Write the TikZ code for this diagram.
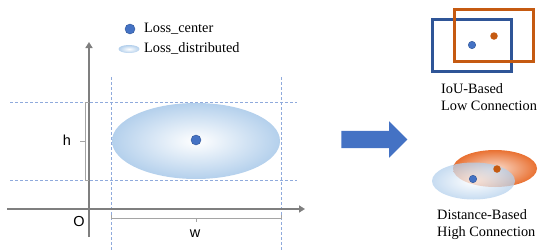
\documentclass[tikz,border=0pt]{standalone}
\usepackage{fontspec}
\setmainfont{Liberation Serif}
\setsansfont{Liberation Sans}
\usetikzlibrary{arrows.meta,positioning,shapes.geometric,shapes.arrows}
\definecolor{LBlue}{HTML}{4472C4}
\definecolor{LNavy}{HTML}{2F5597}
\definecolor{LOrange}{HTML}{C55A11}
\definecolor{LPeach}{HTML}{E97132}
\definecolor{LSky}{HTML}{B4D0EC}
\definecolor{LGuide}{HTML}{8FAADC}
\definecolor{LGray}{HTML}{7F7F7F}

\begin{document}
\begin{tikzpicture}[x=1pt,y=-1pt,
  ctr/.style={circle,fill=LBlue,draw=LNavy,line width=0.4pt,inner sep=0pt,minimum size=#1},
  ctr/.default=10pt,
  octr/.style={circle,fill=LOrange,inner sep=0pt,minimum size=7.5pt},
  blob/.style={ellipse,inner sep=0pt,inner color=white,outer color=LSky},
  gd/.style={LGuide,dash pattern=on 3pt off 2pt,line width=0.6pt},
  ax/.style={LGray,line width=1.8pt,-{Triangle[length=6pt,width=7pt]}},
  br/.style={LGray!70,line width=0.7pt},
  lab/.style={font=\fontsize{14.3}{17}\selectfont,align=left,inner sep=0pt},
  sym/.style={font=\sffamily\fontsize{14.5}{16}\selectfont,inner sep=0pt},
  bx/.style={line width=3pt,minimum width=79pt,minimum height=52pt,inner sep=0pt}
]
  \useasboundingbox (0,0) rectangle (550,252);
  % guides
  \draw[gd] (10,102) coordinate (gh1) -- (297,102) coordinate (gh1e);
  \draw[gd] (10,180) coordinate (gh2) -- (297,180) coordinate (gh2e);
  \draw[gd] (111,77) coordinate (gv1) -- (111,252) coordinate (gv1e);
  \draw[gd] (281,77) coordinate (gv2) -- (281,252) coordinate (gv2e);
  % axes
  \coordinate (ybot) at (89,237);
  \coordinate (ytop) at (89,42);
  \coordinate (xl) at (7,209);
  \coordinate (xr) at (305,209);
  \draw[ax] (ybot) -- (ytop);
  \draw[ax] (xl) -- (xr);
  \node[sym] (origin) at (79,222) {O};
  % loss region
  \node[blob,minimum width=168pt,minimum height=76pt] (region) at (196,141) {};
  \node[ctr] (center) at (196,140) {};
  % brackets
  \draw[br] (89,102) -- (85,102) -- (85,180) -- (89,180);
  \draw[br] (85,141) -- (80,141);
  \node[sym] (hlab) at (67,140) {h};
  \draw[br] (111,215) -- (111,218) -- (281,218) -- (281,215);
  \draw[br] (196,218) -- (196,222);
  \node[sym] (wlab) at (195,234) {w};
  % legend
  \node[ctr] (legdot) at (130,29) {};
  \node[lab,anchor=west] (legc) at (144,29) {Loss\_center};
  \node[blob,minimum width=21pt,minimum height=8pt] (legblob) at (129,49) {};
  \node[lab,anchor=west] (legd) at (144,48) {Loss\_distributed};
  % arrow
  \node[single arrow,fill=LBlue,inner sep=8.5pt,minimum height=66pt,
    single arrow head extend=9.5pt] (go) at (370,139.5) {};
  % IoU boxes
  \node[bx,draw=LNavy] (bbox) at (471.5,45) {};
  \node[bx,draw=LOrange] (obox) at (493.5,35.5) {};
  \node[ctr=7.5pt] (bdot) at (472,45) {};
  \node[octr] (odot) at (494,36) {};
  \node[lab,anchor=west] (iou) at (441,97) {IoU-Based\\Low Connection};
  % distance ellipses
  \node[ellipse,inner sep=0pt,minimum width=84pt,minimum height=37pt,
    inner color=LPeach!25,outer color=LPeach] (oell) at (495,168.5) {};
  \node[ellipse,inner sep=0pt,minimum width=83pt,minimum height=37pt,
    inner color=white,outer color=LSky,fill opacity=0.75] (bell) at (473.5,181) {};
  \node[octr] (odot2) at (497,169) {};
  \node[ctr=7.5pt] (bdot2) at (473,179) {};
  \node[lab,anchor=west] (dist) at (437,225) {Distance-Based\\High Connection};
\end{tikzpicture}
\end{document}
